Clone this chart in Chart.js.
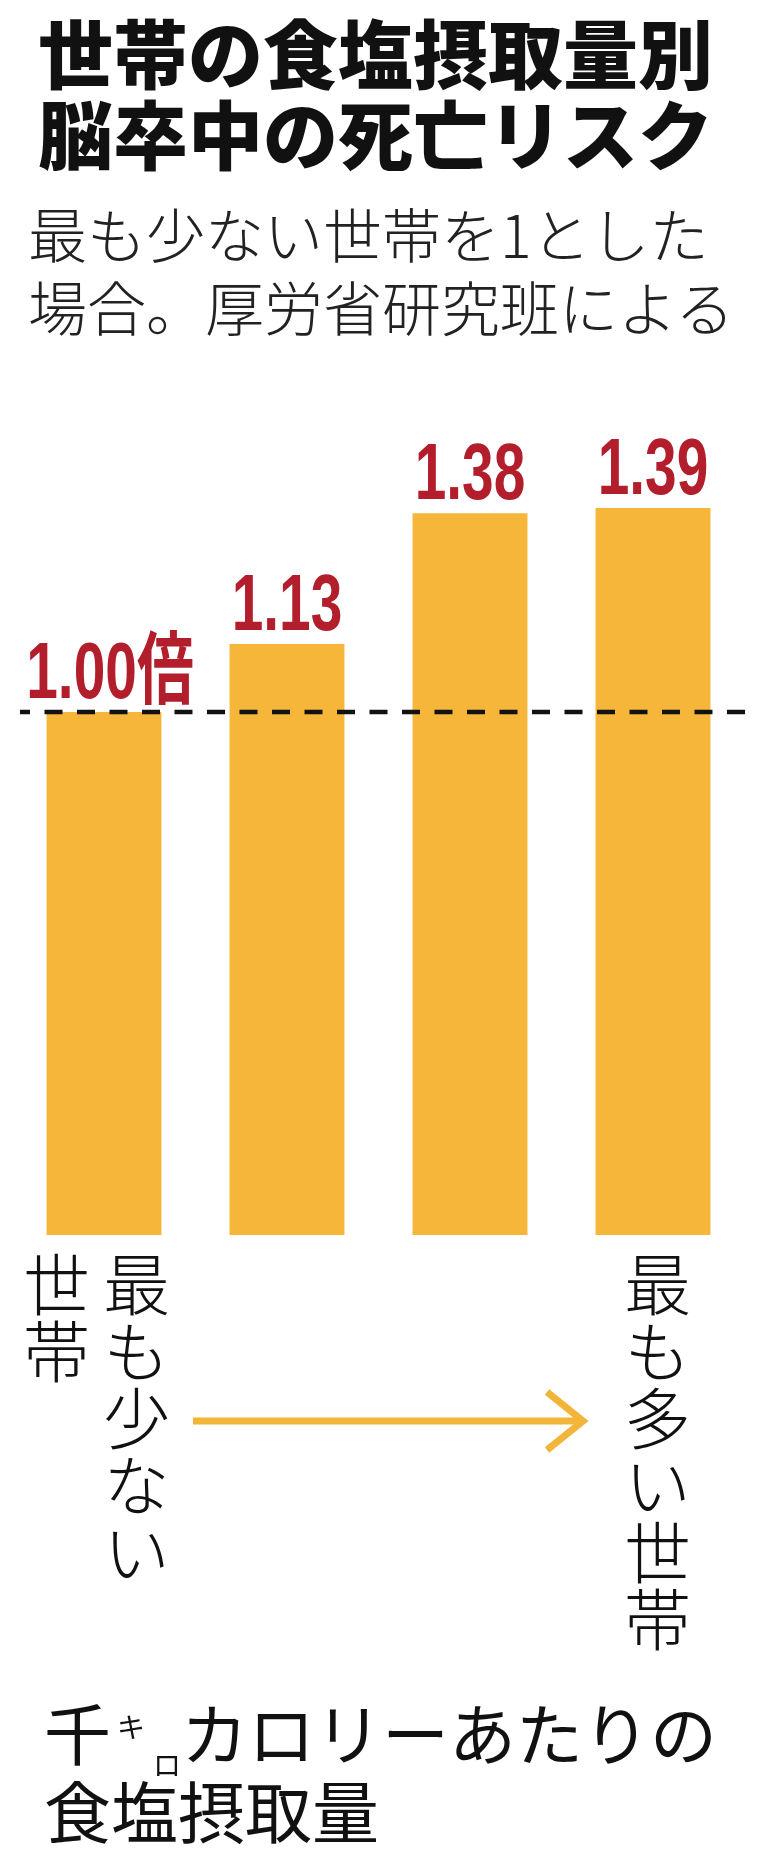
<!DOCTYPE html>
<html lang="ja">
<head>
<meta charset="utf-8">
<script src="https://cdn.jsdelivr.net/npm/chart.js@4"></script>
<style>
  html, body { margin: 0; padding: 0; background: #ffffff; }
  #page { position: relative; width: 760px; height: 1849px; overflow: hidden; background: #fff; }
  #chartBox { position: absolute; left: 0; top: 0; width: 760px; height: 1849px; }
  .txt { position: absolute; white-space: nowrap; font-family: "Noto Sans CJK JP", "Noto Sans", sans-serif; }
  #title { left: 38px; top: 10px; font-size: 75px; line-height: 81px; font-weight: 900; color: #111; }
  #subtitle { left: 28px; top: 196px; font-size: 59px; line-height: 73px; font-weight: 300; color: #222; }
  .vl { writing-mode: vertical-rl; font-size: 67px; line-height: 80px; font-weight: 300; color: #111; }
  #vlLeft { left: 16px; top: 1251px; }
  #vlRight { left: 617px; top: 1251px; }
  #xTitle { left: 44px; top: 1692px; font-size: 67px; line-height: 78px; font-weight: 400; color: #111; }
  .small { display: inline-block; font-size: 28px; line-height: 0; position: relative; }
</style>
</head>
<body>
<div id="page">
  <div id="chartBox"><canvas id="c"></canvas></div>
  <div id="title" class="txt"></div>
  <div id="subtitle" class="txt"></div>
  <div id="vlLeft" class="txt vl"></div>
  <div id="vlRight" class="txt vl"></div>
  <div id="xTitle" class="txt">千<span class="small" style="top:-22px;margin-left:6px;">キ</span><span class="small" style="top:16px;margin-left:8px;">ロ</span>カロリーあたりの<br>食塩摂取量</div>
</div>
<script>
// ---- data ----
const titleLines = ['世帯の食塩摂取量別', '脳卒中の死亡リスク'];
const subtitleLines = ['最も少ない世帯を1とした', '場合。厚労省研究班による'];
const categories = ['最も少ない世帯', '2', '3', '最も多い世帯'];
const values = [1.00, 1.13, 1.38, 1.39];
const valueUnit = '倍';
const referenceValue = 1;
const leftAxisLabel = ['最も少ない', '世帯'];
const rightAxisLabel = ['最も多い世帯'];

document.getElementById('title').innerHTML = titleLines.join('<br>');
document.getElementById('subtitle').innerHTML = subtitleLines.join('<br>');
document.getElementById('vlLeft').innerHTML = leftAxisLabel.join('<br>');
document.getElementById('vlRight').innerHTML = rightAxisLabel.join('<br>');

const valueLabels = values.map((v, i) => v.toFixed(2) + (i === 0 ? valueUnit : ''));

const BAR_COLOR = '#F5B63A';
const LABEL_COLOR = '#B31E2C';

const overlay = {
  id: 'overlay',
  afterDatasetsDraw(chart) {
    const ctx = chart.ctx;
    const y = chart.scales.y;
    const meta = chart.getDatasetMeta(0);
    // reference dashed line at 1.0
    const yRef = y.getPixelForValue(referenceValue);
    ctx.save();
    ctx.strokeStyle = '#111';
    ctx.lineWidth = 4.5;
    ctx.setLineDash([18, 14.5]);
    ctx.lineDashOffset = 8;
    ctx.beginPath();
    ctx.moveTo(20, yRef);
    ctx.lineTo(746, yRef);
    ctx.stroke();
    ctx.restore();

    // value labels
    meta.data.forEach((bar, i) => {
      ctx.save();
      ctx.fillStyle = LABEL_COLOR;
      ctx.font = 'bold 79px "Liberation Sans", "Noto Sans CJK JP", sans-serif';
      ctx.textAlign = 'center';
      ctx.textBaseline = 'alphabetic';
      const sx = 0.72;
      ctx.translate(bar.x + (i === 0 ? 6 : 0), bar.y - 14);
      ctx.scale(sx, 1);
      ctx.fillText(valueLabels[i], 0, 0);
      ctx.restore();
    });
  },
  afterDraw(chart) {
    const ctx = chart.ctx;
    const x = chart.scales.x;
    const x0 = x.getPixelForValue(0) + 89;
    const x1 = x.getPixelForValue(3) - 70;
    const yA = 1421;
    ctx.save();
    ctx.strokeStyle = '#F2B53A';
    ctx.lineWidth = 7;
    ctx.lineCap = 'butt';
    ctx.lineJoin = 'miter';
    ctx.beginPath();
    ctx.moveTo(x0, yA);
    ctx.lineTo(x1 - 3, yA);
    ctx.stroke();
    ctx.beginPath();
    ctx.moveTo(x1 - 36, yA - 29);
    ctx.lineTo(x1, yA);
    ctx.lineTo(x1 - 36, yA + 29);
    ctx.stroke();
    ctx.restore();
  }
};

new Chart(document.getElementById('c'), {
  type: 'bar',
  data: {
    labels: categories,
    datasets: [{
      data: values,
      backgroundColor: BAR_COLOR,
      borderWidth: 0,
      barPercentage: 0.628,
      categoryPercentage: 1.0
    }]
  },
  options: {
    responsive: true,
    maintainAspectRatio: false,
    animation: false,
    events: [],
    layout: { padding: { left: 12.5, right: 15.5, top: 450.5, bottom: 614 } },
    plugins: { legend: { display: false }, tooltip: { enabled: false }, title: { display: false } },
    scales: {
      x: { display: false },
      y: { display: false, min: 0, max: 1.5 }
    }
  },
  plugins: [overlay]
});
</script>
</body>
</html>
